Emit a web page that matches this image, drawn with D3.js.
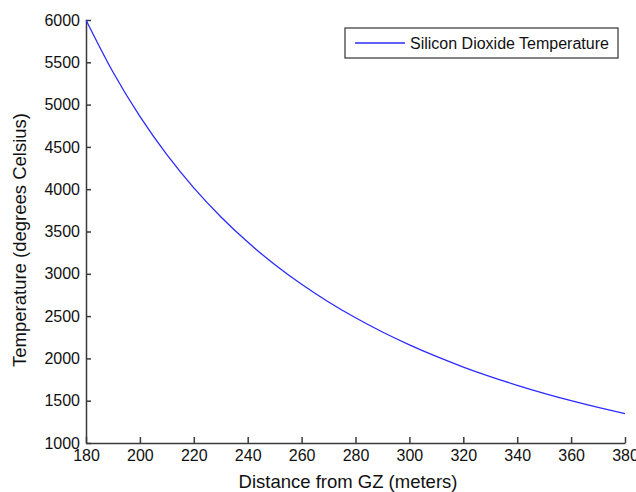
<!DOCTYPE html>
<html>
<head>
<meta charset="utf-8">
<script src="https://cdn.jsdelivr.net/npm/d3@7"></script>
<style>
  body { margin: 0; background: #fff; }
  svg { display: block; font-family: "Liberation Sans", Arial, sans-serif; }
  .axis path, .axis line { stroke: #3a3a3a; stroke-width: 1.5; }
  .axis text { fill: #111; font-size: 16px; }
</style>
</head>
<body>
<svg id="chart"></svg>
<script>
/*
		 DATA
*/
var distance = [180, 190, 200, 210, 220, 230, 240, 250, 260, 270, 280,
                290, 300, 310, 320, 330, 340, 350, 360, 370, 380];
var temperature = [6000, 5385, 4860, 4408, 4016, 3675, 3375, 3110, 2876, 2667, 2480,
                   2312, 2160, 2023, 1898, 1785, 1682, 1587, 1500, 1420, 1346];

var xTicks = [180, 200, 220, 240, 260, 280, 300, 320, 340, 360, 380];
var yTicks = [1000, 1500, 2000, 2500, 3000, 3500, 4000, 4500, 5000, 5500, 6000];

var seriesName = "Silicon Dioxide Temperature";
var xTitle = "Distance from GZ (meters)";
var yTitle = "Temperature (degrees Celsius)";

/*
		 LAYOUT
*/
var width = 636;
var height = 492;
var margin = {top: 20, right: 11, bottom: 49, left: 86};

var w = width - margin.left - margin.right;
var h = height - margin.top - margin.bottom;

var svg = d3.select("#chart")
    .attr("width", width)
    .attr("height", height);

var g = svg.append("g")
    .attr("transform", "translate(" + margin.left + "," + margin.top + ")");

/*
		 SCALES AND AXES
*/
var x = d3.scaleLinear()
    .domain([180, 380])
    .range([0, w]);

var y = d3.scaleLinear()
    .domain([1000, 6000])
    .range([h, 0]);

g.append("g")
    .attr("class", "axis axis--x")
    .attr("transform", "translate(0," + h + ")")
    .call(d3.axisBottom(x).tickValues(xTicks).tickFormat(d3.format("d"))
      .tickSizeInner(-6).tickSizeOuter(0).tickPadding(7));

g.append("g")
    .attr("class", "axis axis--y")
    .call(d3.axisLeft(y).tickValues(yTicks).tickFormat(d3.format("d"))
      .tickSizeInner(-5).tickSizeOuter(0).tickPadding(6));

/*
		 THE CURVE
*/
var pts = distance.map(function(d, i) { return [d, temperature[i]]; });

var line = d3.line()
    .x(function(d) { return x(d[0]); })
    .y(function(d) { return y(d[1]); })
    .curve(d3.curveMonotoneX);

g.append("path")
    .datum(pts)
    .attr("fill", "none")
    .attr("stroke", "#2b2bff")
    .attr("stroke-width", 1.3)
    .attr("d", line);

/*
		 AXIS TITLES
*/
svg.append("text")
    .attr("x", 348)
    .attr("y", 488)
    .attr("text-anchor", "middle")
    .style("font-size", "18.5px")
    .attr("fill", "#111")
    .text(xTitle);

svg.append("text")
    .attr("transform", "translate(26,240) rotate(-90)")
    .attr("text-anchor", "middle")
    .style("font-size", "18.5px")
    .attr("fill", "#111")
    .text(yTitle);

/*
		 LEGEND
*/
var legend = svg.append("g")
    .attr("transform", "translate(345,28)");

legend.append("rect")
    .attr("width", 273)
    .attr("height", 30)
    .attr("fill", "#fff")
    .attr("stroke", "#333")
    .attr("stroke-width", 1.2);

legend.append("line")
    .attr("x1", 10).attr("x2", 60)
    .attr("y1", 15).attr("y2", 15)
    .attr("stroke", "#2b2bff")
    .attr("stroke-width", 1.3);

legend.append("text")
    .attr("x", 65)
    .attr("y", 20.5)
    .style("font-size", "16px")
    .attr("fill", "#111")
    .text(seriesName);
</script>
</body>
</html>
